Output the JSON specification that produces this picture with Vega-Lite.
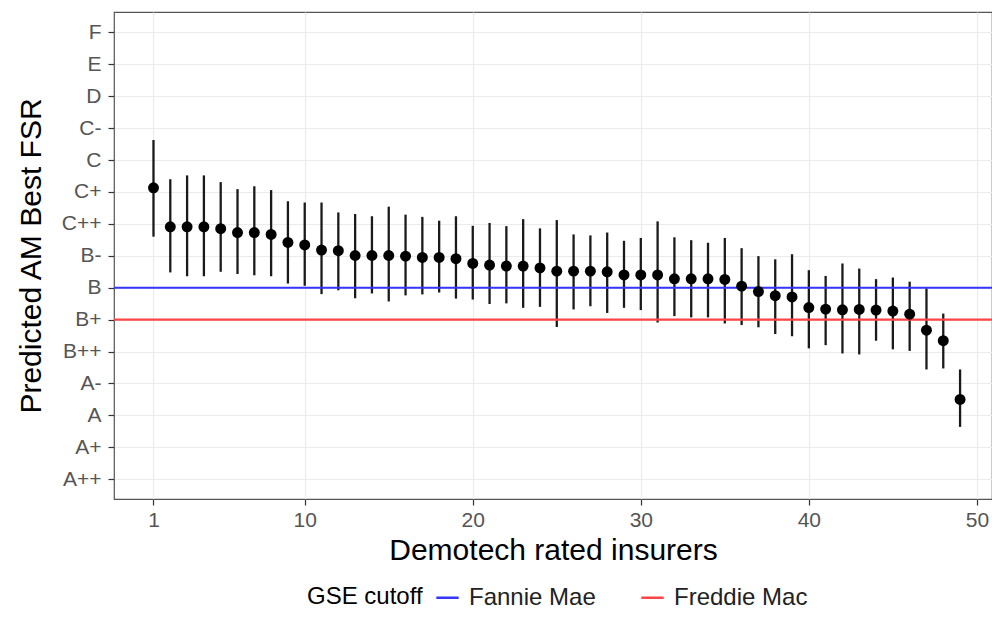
{
  "$schema": "https://vega.github.io/schema/vega-lite/v6.json",
  "autosize": {"type": "none"},
  "padding": {"left": 114, "top": 12, "right": 0, "bottom": 137},
  "width": 878,
  "height": 487,
  "background": "white",
  "config": {
    "font": "Liberation Sans",
    "view": {"stroke": "#555555", "strokeWidth": 1.2},
    "axis": {
      "domain": false,
      "gridColor": "#ebebeb",
      "gridWidth": 1.2,
      "tickColor": "#333333",
      "tickSize": 6,
      "tickWidth": 1.2,
      "labelColor": "#555555",
      "labelFont": "Liberation Sans",
      "labelFontSize": 21,
      "titleFont": "Liberation Sans",
      "titleFontSize": 30,
      "titleFontWeight": "normal",
      "titleColor": "#000000"
    }
  },
  "datasets": {
    "est": [
      {"i": 1, "est": 10.13, "lo": 8.60, "hi": 11.63},
      {"i": 2, "est": 8.91, "lo": 7.48, "hi": 10.40},
      {"i": 3, "est": 8.91, "lo": 7.36, "hi": 10.52},
      {"i": 4, "est": 8.91, "lo": 7.36, "hi": 10.52},
      {"i": 5, "est": 8.85, "lo": 7.50, "hi": 10.31},
      {"i": 6, "est": 8.73, "lo": 7.43, "hi": 10.09},
      {"i": 7, "est": 8.73, "lo": 7.39, "hi": 10.18},
      {"i": 8, "est": 8.67, "lo": 7.36, "hi": 10.06},
      {"i": 9, "est": 8.42, "lo": 7.13, "hi": 9.71},
      {"i": 10, "est": 8.34, "lo": 7.06, "hi": 9.67},
      {"i": 11, "est": 8.18, "lo": 6.80, "hi": 9.67},
      {"i": 12, "est": 8.16, "lo": 6.92, "hi": 9.36},
      {"i": 13, "est": 8.01, "lo": 6.67, "hi": 9.31},
      {"i": 14, "est": 8.01, "lo": 6.82, "hi": 9.24},
      {"i": 15, "est": 8.01, "lo": 6.57, "hi": 9.54},
      {"i": 16, "est": 7.99, "lo": 6.76, "hi": 9.29},
      {"i": 17, "est": 7.95, "lo": 6.79, "hi": 9.22},
      {"i": 18, "est": 7.95, "lo": 6.85, "hi": 9.10},
      {"i": 19, "est": 7.91, "lo": 6.66, "hi": 9.24},
      {"i": 20, "est": 7.76, "lo": 6.63, "hi": 8.94},
      {"i": 21, "est": 7.71, "lo": 6.49, "hi": 9.03},
      {"i": 22, "est": 7.68, "lo": 6.51, "hi": 8.93},
      {"i": 23, "est": 7.68, "lo": 6.37, "hi": 9.15},
      {"i": 24, "est": 7.62, "lo": 6.40, "hi": 8.86},
      {"i": 25, "est": 7.52, "lo": 5.77, "hi": 9.12},
      {"i": 26, "est": 7.52, "lo": 6.32, "hi": 8.67},
      {"i": 27, "est": 7.52, "lo": 6.42, "hi": 8.64},
      {"i": 28, "est": 7.50, "lo": 6.21, "hi": 8.73},
      {"i": 29, "est": 7.40, "lo": 6.37, "hi": 8.47},
      {"i": 30, "est": 7.40, "lo": 6.30, "hi": 8.56},
      {"i": 31, "est": 7.40, "lo": 5.91, "hi": 9.08},
      {"i": 32, "est": 7.28, "lo": 6.11, "hi": 8.58},
      {"i": 33, "est": 7.28, "lo": 6.07, "hi": 8.49},
      {"i": 34, "est": 7.28, "lo": 6.07, "hi": 8.41},
      {"i": 35, "est": 7.26, "lo": 5.88, "hi": 8.56},
      {"i": 36, "est": 7.05, "lo": 5.83, "hi": 8.24},
      {"i": 37, "est": 6.88, "lo": 5.76, "hi": 7.99},
      {"i": 38, "est": 6.75, "lo": 5.55, "hi": 7.89},
      {"i": 39, "est": 6.71, "lo": 5.48, "hi": 8.05},
      {"i": 40, "est": 6.38, "lo": 5.10, "hi": 7.55},
      {"i": 41, "est": 6.33, "lo": 5.20, "hi": 7.37},
      {"i": 42, "est": 6.31, "lo": 4.94, "hi": 7.76},
      {"i": 43, "est": 6.32, "lo": 4.91, "hi": 7.60},
      {"i": 44, "est": 6.30, "lo": 5.34, "hi": 7.27},
      {"i": 45, "est": 6.27, "lo": 5.07, "hi": 7.32},
      {"i": 46, "est": 6.17, "lo": 5.02, "hi": 7.19},
      {"i": 47, "est": 5.67, "lo": 4.44, "hi": 6.98},
      {"i": 48, "est": 5.34, "lo": 4.47, "hi": 6.19},
      {"i": 49, "est": 3.50, "lo": 2.64, "hi": 4.44}
    ],
    "cut": [
      {"gse": "Fannie Mae", "level": 7},
      {"gse": "Freddie Mac", "level": 6}
    ]
  },
  "layer": [
    {
      "data": {"name": "est"},
      "mark": {"type": "rule", "color": "#1a1a1a", "strokeWidth": 2.3},
      "encoding": {
        "x": {
          "field": "i", "type": "quantitative",
          "scale": {"domain": [-1.35, 50.9], "nice": false, "zero": false},
          "axis": {"values": [1, 10, 20, 30, 40, 50], "tickCount": 10, "title": "Demotech rated insurers", "labelPadding": 4, "titlePadding": 5, "grid": true, "labelOverlap": false, "labelFlush": false}
        },
        "y": {
          "field": "lo", "type": "quantitative",
          "scale": {"domain": [0.38, 15.64], "nice": false, "zero": false},
          "axis": {
            "values": [1, 2, 3, 4, 5, 6, 7, 8, 9, 10, 11, 12, 13, 14, 15],
            "tickCount": 20,
            "labelExpr": "['A++','A+','A','A-','B++','B+','B','B-','C++','C+','C','C-','D','E','F'][datum.value - 1]",
            "title": "Predicted AM Best FSR",
            "labelPadding": 7,
            "titlePadding": 15,
            "grid": true,
            "labelOverlap": false,
            "labelFlush": false
          }
        },
        "y2": {"field": "hi"}
      }
    },
    {
      "data": {"name": "cut"},
      "mark": {"type": "rule", "strokeWidth": 2.2},
      "encoding": {
        "y": {"field": "level", "type": "quantitative"},
        "color": {
          "field": "gse", "type": "nominal",
          "scale": {"domain": ["Fannie Mae", "Freddie Mac"], "range": ["#3535ff", "#ff4545"]},
          "legend": {
            "title": "GSE cutoff",
            "orient": "none",
            "legendX": 193,
            "legendY": 573,
            "direction": "horizontal",
            "titleOrient": "left",
            "titleFontSize": 24,
            "titleFontWeight": "normal",
            "titleColor": "#000000",
            "titleFont": "Liberation Sans",
            "titlePadding": 12,
            "labelFontSize": 24,
            "labelColor": "#222222",
            "labelFont": "Liberation Sans",
            "labelOffset": 9,
            "columnPadding": 40,
            "symbolType": "stroke",
            "symbolSize": 500,
            "symbolStrokeWidth": 2.5
          }
        }
      }
    },
    {
      "data": {"name": "est"},
      "mark": {"type": "point", "filled": true, "color": "#000000", "size": 120, "opacity": 1},
      "encoding": {
        "x": {"field": "i", "type": "quantitative"},
        "y": {"field": "est", "type": "quantitative"}
      }
    }
  ]
}
